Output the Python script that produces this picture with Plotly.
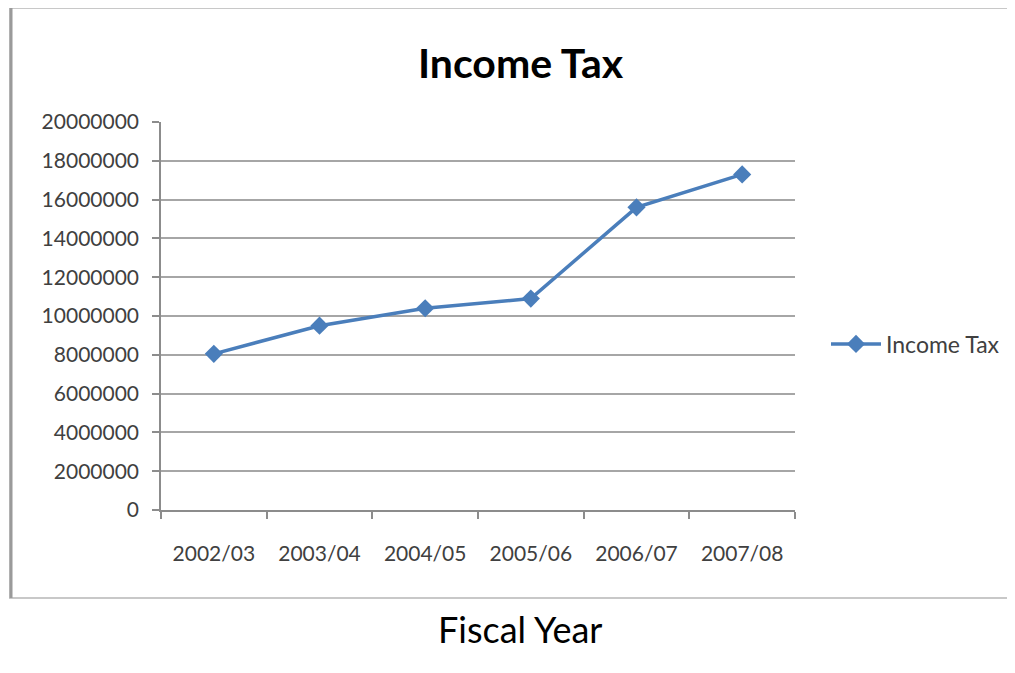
import plotly.graph_objects as go

years = ["2002/03", "2003/04", "2004/05", "2005/06", "2006/07", "2007/08"]
income_tax = [8050000, 9500000, 10400000, 10900000, 15600000, 17300000]
y_ticks = [0, 2000000, 4000000, 6000000, 8000000, 10000000, 12000000, 14000000, 16000000, 18000000, 20000000]

OFF = 8  # page body margin
W, H = 1015 - OFF, 673 - OFF
L, R, T, B = 161 - OFF, 795 - OFF, 122 - OFF, 510 - OFF


def px(x):
    return (x - OFF - L) / (R - L)


def py(y):
    return (B - (y - OFF)) / (B - T)


fig = go.Figure()
fig.add_trace(go.Scatter(
    x=years, y=income_tax, mode="lines+markers", name="Income Tax",
    line=dict(color="#4A7EBB", width=3.5),
    marker=dict(symbol="diamond", size=14, color="#4A7EBB"),
))

fig.update_layout(
    width=W, height=H,
    margin=dict(l=L, r=W - R, t=T, b=H - B, autoexpand=False),
    paper_bgcolor="white", plot_bgcolor="white",
    font=dict(family="Lato, Carlito, sans-serif", color="#404040"),
    showlegend=True,
    legend=dict(x=px(826), y=py(344), xanchor="left", yanchor="middle",
                itemwidth=50,
                font=dict(size=23, color="#404040"), bgcolor="rgba(0,0,0,0)"),
    xaxis=dict(type="category", range=[-0.5, 5.5], tickson="boundaries",
               ticks="outside", ticklen=7, tickcolor="#8c8c8c", tickwidth=1.5,
               ticklabelstandoff=24,
               showline=True, linecolor="#8c8c8c", linewidth=1.5, showgrid=False,
               tickfont=dict(size=21, color="#404040"), fixedrange=True),
    yaxis=dict(range=[0, 20000000], tickvals=y_ticks, tickformat="d",
               ticks="outside", ticklen=7, tickcolor="#8c8c8c", tickwidth=1.5,
               ticklabelstandoff=9,
               showline=True, linecolor="#8c8c8c", linewidth=1.5,
               gridcolor="#a6a6a6", gridwidth=1.8, zeroline=False,
               tickfont=dict(size=21, color="#404040"), fixedrange=True),
    shapes=[
        dict(type="rect", xref="paper", yref="paper",
             x0=px(10), x1=px(1016), y0=py(598), y1=py(8),
             line=dict(color="#c8c8c8", width=2), layer="below"),
        dict(type="line", xref="paper", yref="paper",
             x0=px(11), x1=px(11), y0=py(598), y1=py(8),
             line=dict(color="#9a9a9a", width=3)),
    ],
    annotations=[
        dict(text="<b>Income Tax</b>", xref="paper", yref="paper",
             x=px(521), y=py(62), xanchor="center", yanchor="middle",
             showarrow=False, font=dict(size=41, color="#000000")),
        dict(text="Fiscal Year", xref="paper", yref="paper",
             x=px(520), y=py(629), xanchor="center", yanchor="middle",
             showarrow=False, font=dict(size=36, color="#000000")),
    ],
)

fig.write_html("out.html")
